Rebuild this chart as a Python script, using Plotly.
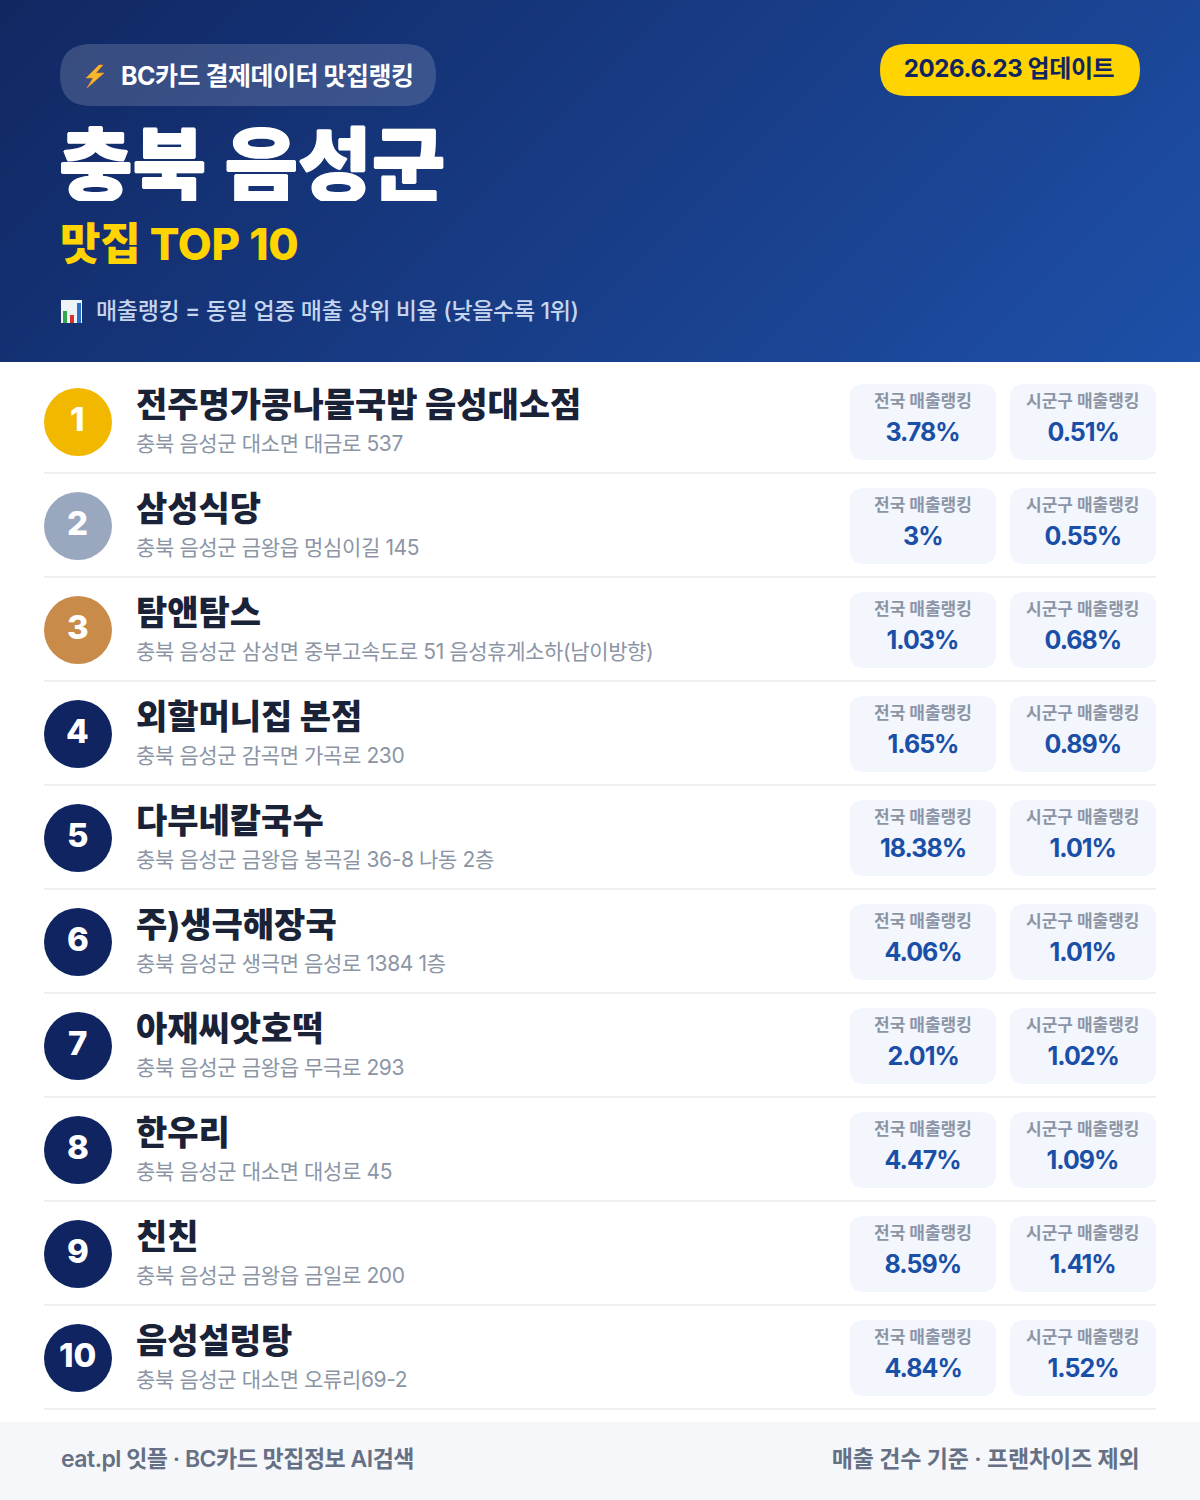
import json

import numpy as np
import plotly.graph_objects as go

KR = "Inter, Noto Sans CJK KR"
KR_ONLY = "Noto Sans CJK KR"

names = ["전주명가콩나물국밥 음성대소점", "삼성식당", "탐앤탐스", "외할머니집 본점", "다부네칼국수",
         "주)생극해장국", "아재씨앗호떡", "한우리", "친친", "음성설렁탕"]
addresses = ["충북 음성군 대소면 대금로 537",
             "충북 음성군 금왕읍 멍심이길 145",
             "충북 음성군 삼성면 중부고속도로 51 음성휴게소하(남이방향)",
             "충북 음성군 감곡면 가곡로 230",
             "충북 음성군 금왕읍 봉곡길 36-8 나동 2층",
             "충북 음성군 생극면 음성로 1384 1층",
             "충북 음성군 금왕읍 무극로 293",
             "충북 음성군 대소면 대성로 45",
             "충북 음성군 금왕읍 금일로 200",
             "충북 음성군 대소면 오류리69-2"]
national = [3.78, 3, 1.03, 1.65, 18.38, 4.06, 2.01, 4.47, 8.59, 4.84]
local = [0.51, 0.55, 0.68, 0.89, 1.01, 1.01, 1.02, 1.09, 1.41, 1.52]
rank_colors = ["#f2b800", "#9aa8bf", "#c98b4a"] + ["#0f2460"] * 7

NAVY = "#0f2460"
BLUE = "#1a4fa8"
YELLOW = "#ffd400"
ROW_H = 104

spacing = []  # letter spacing in px, one per annotation


def round_rect(x0, y0, x1, y1, r, fill):
    path = (f"M{x0+r},{y0} L{x1-r},{y0} Q{x1},{y0} {x1},{y0+r} L{x1},{y1-r} Q{x1},{y1} {x1-r},{y1} "
            f"L{x0+r},{y1} Q{x0},{y1} {x0},{y1-r} L{x0},{y0+r} Q{x0},{y0} {x0+r},{y0} Z")
    return dict(type="path", path=path, fillcolor=fill, line_width=0, xref="x", yref="y")


def rect(x0, y0, x1, y1, fill):
    return dict(type="rect", x0=x0, y0=y0, x1=x1, y1=y1, fillcolor=fill, line_width=0, xref="x", yref="y")


def text(x, y, s, size, color, weight=400, anchor="left", shadow=None, height=None, ls=0, family=KR):
    font = dict(family=family, size=size, color=color, weight=weight)
    if shadow:
        font["shadow"] = shadow
    note = dict(x=x, y=y, text=s, showarrow=False, xref="x", yref="y", xanchor=anchor, yanchor="middle",
                align=anchor, font=font, borderpad=0)
    if height:
        note["height"] = height
    spacing.append(ls)
    return note


def fat(color, w):
    # the installed font stops at bold, thicken the big title a little
    return f"{w}px 0 0 {color},-{w}px 0 0 {color},0 {w}px 0 {color},0 -{w}px 0 {color}"


# header gradient, 135deg across the box
gx = np.arange(2, 1200, 4)
gy = np.arange(1, 362, 2)
gz = (gx[None, :] + gy[:, None]) / (1200 + 362)

fig = go.Figure(go.Heatmap(x=gx, y=gy, z=gz, zmin=0, zmax=1, zsmooth="best", showscale=False, hoverinfo="skip",
                           colorscale=[[0, "#112762"], [1, "#1e50a8"]]))

shapes = []
notes = []

# header
shapes.append(round_rect(60, 44, 436, 106, 31, "rgba(255,255,255,0.16)"))
shapes.append(round_rect(880, 44, 1140, 96, 26, YELLOW))
# bolt icon
shapes.append(dict(type="path", path="M99,65 L86,78 L93,78 L87,88 L104,73 L96,73 L103,65 Z",
                   fillcolor="#f7b92b", line=dict(color="#f08a1d", width=0.6), xref="x", yref="y"))
# bar chart icon
shapes.append(rect(61, 300, 82, 323, "#eef3f8"))
shapes.append(rect(63, 311, 67, 323, "#2fa84f"))
shapes.append(rect(70, 315, 74, 323, "#d9302c"))
shapes.append(rect(77, 303, 81, 323, "#2a6fc4"))

notes.append(text(120, 76, "BC카드 결제데이터 맛집랭킹", 25, "#ffffff", 700, ls=-0.5))
notes.append(text(1009, 68, "2026.6.23 업데이트", 24, NAVY, 700, "center", ls=-0.4))
notes.append(text(58, 159, "충북 음성군", 80, "#ffffff", 900, shadow=fat("#ffffff", 0.8), height=84, family=KR_ONLY))
notes.append(text(59, 244, "맛집 TOP 10", 44, YELLOW, 800, height=48, ls=-0.3))
notes.append(text(95, 311, "매출랭킹 = 동일 업종 매출 상위 비율 (낮을수록 1위)", 23, "#c5d5ee", 500, ls=-0.33))

# rows
for i in range(len(names)):
    top = i * ROW_H
    shapes.append(dict(type="circle", x0=44, x1=112, y0=388 + top, y1=456 + top,
                       fillcolor=rank_colors[i], line_width=0, xref="x", yref="y"))
    notes.append(text(77.5, 418.5 + top, str(i + 1), 33, "#ffffff", 800, "center"))
    notes.append(text(135, 404 + top, names[i], 34, "#1a2238", 800))
    notes.append(text(135, 443.5 + top, addresses[i], 21, "#8b95a5", 400, ls=-0.38))

    shapes.append(round_rect(850, 384 + top, 996, 460 + top, 14, "#f3f6fc"))
    shapes.append(round_rect(1010, 384 + top, 1156, 460 + top, 14, "#f3f6fc"))
    notes.append(text(923, 401 + top, "전국 매출랭킹", 17, "#8b95a5", 700, "center"))
    notes.append(text(1083, 401 + top, "시군구 매출랭킹", 17, "#8b95a5", 700, "center"))
    notes.append(text(922.5, 432 + top, f"{national[i]:g}%", 25, BLUE, 700, "center", ls=-1))
    notes.append(text(1082.5, 432 + top, f"{local[i]:g}%", 25, BLUE, 700, "center", ls=-1))

    shapes.append(rect(44, 472 + top, 1156, 474 + top, "#eef0f3"))

# footer
shapes.append(rect(0, 1422, 1200, 1500, "#f5f7fb"))
notes.append(text(59.5, 1459, "eat.pl 잇플 · BC카드 맛집정보 AI검색", 23, "#667085", 600, ls=-0.5))
notes.append(text(1140, 1459, "매출 건수 기준 · 프랜차이즈 제외", 23, "#667085", 600, "right", ls=-0.2))

fig.update_layout(width=1200, height=1500, margin=dict(l=0, r=0, t=0, b=0), paper_bgcolor="#ffffff",
                  plot_bgcolor="#ffffff", shapes=shapes, annotations=notes, hovermode=False,
                  xaxis=dict(range=[0, 1200], visible=False, fixedrange=True),
                  yaxis=dict(range=[1500, 0], visible=False, fixedrange=True))

post = ("document.body.style.margin='0';"
        f"var sp={json.dumps(spacing)};"
        "document.querySelectorAll('.annotation').forEach(function(a){"
        "a.querySelector('.annotation-text').style.letterSpacing=sp[+a.getAttribute('data-index')]+'px';});")

fig.write_html("out.html", config=dict(displayModeBar=False), post_script=post)
